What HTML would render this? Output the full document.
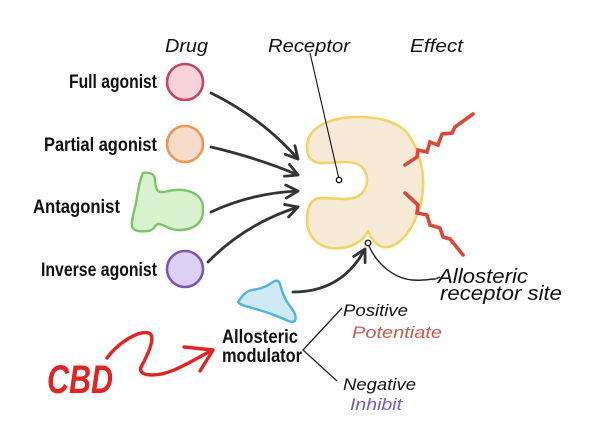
<!DOCTYPE html>
<html>
<head>
<meta charset="utf-8">
<style>
  html,body{margin:0;padding:0;background:#fff;}
  body{width:600px;height:429px;overflow:hidden;}
  svg{display:block;}
  .hand{font-family:"Liberation Sans Narrow","Liberation Sans",sans-serif;font-weight:bold;fill:#111;}
  .it{font-family:"Liberation Sans",sans-serif;font-style:italic;fill:#111;}
</style>
</head>
<body>
<svg width="600" height="429" viewBox="0 0 600 429" xmlns="http://www.w3.org/2000/svg">
  <defs>
    <marker id="ah" viewBox="0 0 16 16" refX="14" refY="8" markerWidth="16" markerHeight="16" markerUnits="userSpaceOnUse" orient="auto">
      <path d="M2,1.5 L14,8 L2,14.5" fill="none" stroke="#333" stroke-width="2.8" stroke-linecap="round" stroke-linejoin="round"/>
    </marker>
  </defs>
  <rect width="600" height="429" fill="#fff"/>

  <!-- Headers -->
  <text class="it" x="165" y="52" font-size="18" textLength="43" lengthAdjust="spacingAndGlyphs">Drug</text>
  <text class="it" x="268" y="52" font-size="18" textLength="82" lengthAdjust="spacingAndGlyphs">Receptor</text>
  <text class="it" x="410" y="52" font-size="18" textLength="53" lengthAdjust="spacingAndGlyphs">Effect</text>

  <!-- Left labels -->
  <text class="hand" x="69" y="88" font-size="19" textLength="88" lengthAdjust="spacingAndGlyphs">Full agonist</text>
  <text class="hand" x="44" y="151" font-size="19" textLength="113" lengthAdjust="spacingAndGlyphs">Partial agonist</text>
  <text class="hand" x="33" y="213" font-size="19" textLength="87" lengthAdjust="spacingAndGlyphs">Antagonist</text>
  <text class="hand" x="41" y="276" font-size="19" textLength="116" lengthAdjust="spacingAndGlyphs">Inverse agonist</text>

  <!-- Drug shapes -->
  <circle cx="185" cy="82" r="18" fill="#f8d3da" stroke="#c0475e" stroke-width="2.6"/>
  <circle cx="185" cy="144" r="18" fill="#f7dccb" stroke="#e89a55" stroke-width="2.6"/>
  <circle cx="185" cy="269" r="18" fill="#ddd1f3" stroke="#7d55b0" stroke-width="2.6"/>
  <path d="M143,173 C147,172 152,173 154,176 C156,180 154,186 158,191 C162,194 168,190 176,190 C188,189 203,194 203,208 C204,221 196,229 182,230 C170,231 164,224 158,224 C154,225 155,230 148,231 C140,232 134,231 132,227 C131,221 134,212 136,203 C138,192 139,182 143,173 Z"
        fill="#d9f2cf" stroke="#7cc46a" stroke-width="2.4" stroke-linejoin="round"/>

  <!-- Arrows to receptor -->
  <g fill="none" stroke="#333" stroke-width="2.8" stroke-linecap="round">
    <path d="M211,93 Q262,118 298,159" marker-end="url(#ah)"/>
    <path d="M211,147 Q258,158 298,175" marker-end="url(#ah)"/>
    <path d="M211,212 Q252,193 298,191" marker-end="url(#ah)"/>
    <path d="M208,262 Q245,224 298,207" marker-end="url(#ah)"/>
  </g>

  <!-- Receptor -->
  <path d="M307,148 C306,128 330,117 357,117 C384,117 400,124 408,134 C418,148 424,168 423,187 C422,214 406,244 388,247 C378,249 372,240 368,231 C364,240 352,250 331,248 C316,246 307,234 307,220 C307,208 310,199 320,198 L345,199 C360,199 367,191 367,180 C367,169 360,162 345,162 L324,163 C312,164 307,157 307,148 Z"
        fill="#f7ead6" stroke="#f0d468" stroke-width="2.6" stroke-linejoin="round"/>

  <!-- Receptor pointer -->
  <line x1="310" y1="53" x2="338.5" y2="177" stroke="#111" stroke-width="1.1"/>
  <circle cx="339" cy="180" r="2.7" fill="#fff" stroke="#111" stroke-width="1.3"/>

  <!-- Effect zigzags -->
  <g fill="none" stroke="#d9483a" stroke-width="3.6" stroke-linejoin="miter" stroke-linecap="round">
    <polyline points="405,165 417,157 418,150 427,152 430,142 438,145 442,134 452,133 455,127 473,114"/>
    <polyline points="405,193 418,205 417,213 427,215 430,225 440,228 443,237 450,239 463,255"/>
  </g>

  <!-- Allosteric modulator shape -->
  <path d="M238,302 C242,296 246,291 252,290 C258,289 264,288 270,284 C274,281 278,278 280,284 C282,291 284,298 289,305 C294,311 297,316 295,321 C292,323 288,321 284,319 C272,314 260,310 252,308 C246,306 240,305 238,302 Z"
        fill="#cfe9f6" stroke="#4fb3da" stroke-width="2.4" stroke-linejoin="round"/>

  <!-- Modulator arrow -->
  <path d="M293,292 Q342,292 365,249" fill="none" stroke="#333" stroke-width="2.8" stroke-linecap="round" marker-end="url(#ah)"/>

  <!-- Allosteric site dot and pointer -->
  <path d="M369,246 C376,262 392,278 412,280 C422,281 430,279 435,279 L440,277" fill="none" stroke="#222" stroke-width="1.4"/>
  <circle cx="368" cy="243" r="2.8" fill="#e8f3e0" stroke="#222" stroke-width="1.4"/>

  <text class="it" x="438" y="283" font-size="20" textLength="90" lengthAdjust="spacingAndGlyphs">Allosteric</text>
  <text class="it" x="440" y="300" font-size="20" textLength="122" lengthAdjust="spacingAndGlyphs">receptor site</text>

  <!-- Allosteric modulator label -->
  <text class="hand" x="222" y="343" font-size="19" textLength="76" lengthAdjust="spacingAndGlyphs">Allosteric</text>
  <text class="hand" x="222" y="362" font-size="19" textLength="80" lengthAdjust="spacingAndGlyphs">modulator</text>

  <!-- Branch lines -->
  <polyline points="342,308 303,350 337,381" fill="none" stroke="#222" stroke-width="1.3"/>

  <text class="it" x="343" y="316" font-size="17" textLength="65" lengthAdjust="spacingAndGlyphs">Positive</text>
  <text class="it" x="352" y="338" font-size="17" textLength="90" lengthAdjust="spacingAndGlyphs" style="fill:#c8594d">Potentiate</text>
  <text class="it" x="343" y="390" font-size="17" textLength="73" lengthAdjust="spacingAndGlyphs">Negative</text>
  <text class="it" x="350" y="410" font-size="17" textLength="52" lengthAdjust="spacingAndGlyphs" style="fill:#7a5aa8">Inhibit</text>

  <!-- CBD -->
  <text x="47" y="393" font-family="Liberation Sans Narrow, Liberation Sans, sans-serif" font-style="italic" font-weight="bold" font-size="40" fill="#e02424" textLength="66" lengthAdjust="spacingAndGlyphs">CBD</text>
  <g fill="none" stroke="#e02424" stroke-width="3.4" stroke-linecap="round" stroke-linejoin="round">
    <path d="M107,358 C118,343 138,330 149,333 C157,337 146,358 141,367 C137,377 158,377 174,370 C190,363 203,355 212,350"/>
    <polyline points="184,347 213,350 200,371"/>
  </g>
</svg>
</body>
</html>
